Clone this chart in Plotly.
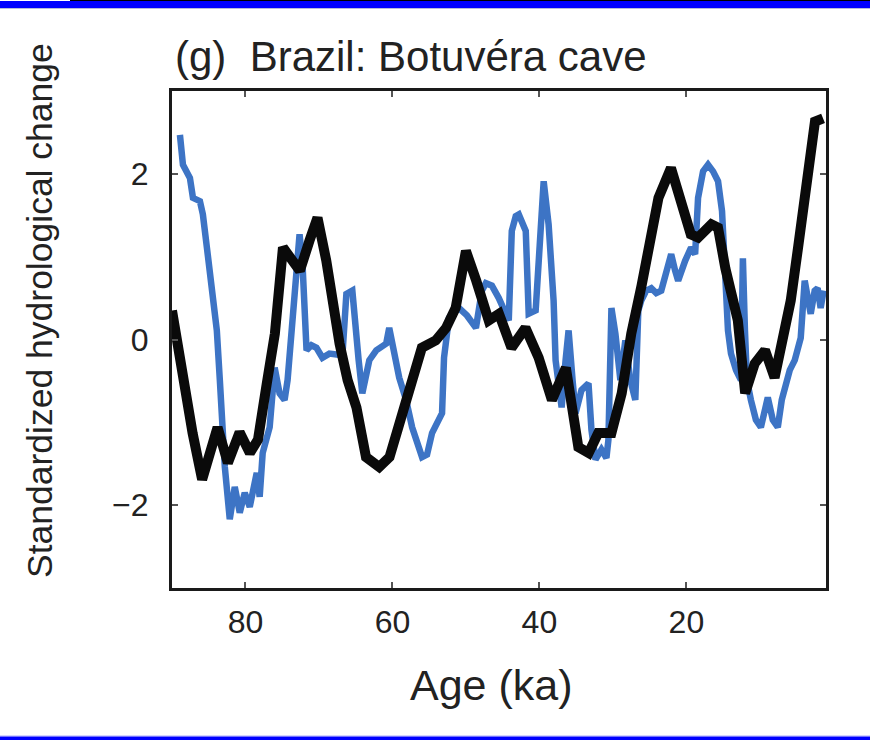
import plotly.graph_objects as go

# Canvas and plot-area geometry (pixels)
W, H = 870, 740
L, R, T, B = 172, 44, 91, 152

# Botuvéra cave speleothem record (blue), standardized
blue_age = [88.92, 88.51, 87.56, 87.15, 86.20, 85.80, 85.25, 84.44, 83.90, 83.49,
            83.22, 82.81, 82.14, 81.46, 80.78, 80.10, 79.42, 78.47, 78.07, 77.66,
            76.71, 76.03, 75.36, 74.68, 74.27, 73.73, 73.05, 72.64, 72.24, 71.69,
            71.02, 70.34, 69.53, 68.58, 66.81, 66.27, 65.46, 64.92, 64.60, 64.10,
            63.15, 62.20, 60.85, 60.44, 59.76, 59.08, 58.14, 57.32, 55.97, 55.29,
            54.61, 53.25, 52.98, 52.31, 51.63, 50.95, 49.86, 48.64, 47.83, 47.29,
            46.47, 45.53, 44.17, 43.76, 43.22, 42.81, 41.86, 41.46, 40.51, 39.97,
            39.42, 38.75, 38.07, 37.80, 36.98, 36.44, 36.03, 35.49, 35.08, 34.27,
            33.32, 32.92, 32.37, 31.56, 30.88, 30.61, 30.20, 29.66, 28.98, 28.31,
            27.63, 26.95, 26.54, 26.14, 25.46, 24.78, 24.10, 23.42, 22.75, 22.07,
            21.53, 21.12, 20.17, 19.36, 18.81, 18.41, 17.73, 17.05, 16.37, 15.69,
            15.15, 14.75, 14.34, 13.93, 13.25, 12.58, 12.31, 12.03, 11.76, 11.22,
            10.54, 9.86, 9.32, 8.92, 8.24, 7.56, 7.02, 6.61, 5.93, 5.25,
            4.85, 4.44, 3.90, 3.08, 2.54, 2.14, 1.73, 1.32]
blue_val = [2.47, 2.11, 1.95, 1.71, 1.67, 1.51, 1.11, 0.59, 0.11, -0.49,
            -1.06, -1.54, -2.17, -1.78, -2.09, -1.85, -2.02, -1.61, -1.90, -1.37,
            -1.06, -0.34, -0.65, -0.73, -0.49, 0.07, 0.79, 1.27, 0.91, -0.13,
            -0.07, -0.10, -0.22, -0.17, -0.19, 0.55, 0.59, -0.05, -0.25, -0.65,
            -0.25, -0.13, -0.05, 0.14, -0.13, -0.46, -0.73, -1.06, -1.42, -1.39,
            -1.13, -0.89, -0.22, 0.26, 0.35, 0.38, 0.29, 0.14, 0.59, 0.68,
            0.65, 0.50, 0.23, 1.31, 1.49, 1.51, 1.31, 0.31, 0.35, 1.31,
            1.91, 1.39, 0.47, -0.25, -0.82, -0.25, 0.11, -0.49, -0.89, -0.61,
            -0.53, -1.09, -1.45, -1.33, -1.43, -1.21, 0.38, 0.07, -0.49, -0.01,
            -0.49, -0.73, 0.35, 0.47, 0.59, 0.62, 0.56, 0.59, 0.83, 1.03,
            0.83, 0.71, 0.95, 1.11, 1.03, 1.71, 2.03, 2.11, 2.03, 1.91,
            1.55, 0.95, 0.11, -0.17, -0.37, -0.49, 0.98, 0.11, -0.49, -0.73,
            -0.97, -1.06, -0.85, -0.70, -0.97, -1.06, -0.73, -0.58, -0.37, -0.25,
            -0.07, 0.02, 0.71, 0.31, 0.59, 0.62, 0.38, 0.59]

# Model / composite hydrological index (black), standardized
black_age = [90.0, 88.2, 87.2, 85.9, 84.8, 83.8, 82.4, 80.8, 79.4, 78.3,
             77.1, 76.0, 74.9, 73.7, 72.6, 71.3, 70.2, 69.0, 68.2, 67.2,
             66.1, 64.9, 63.6, 61.8, 60.4, 59.1, 57.3, 56.0, 54.1, 52.7,
             51.4, 50.0, 48.6, 46.9, 45.5, 43.8, 41.9, 40.1, 38.3, 36.4,
             34.7, 33.3, 32.0, 30.2, 28.8, 27.5, 26.1, 23.8, 22.1, 21.1,
             19.4, 18.4, 16.6, 15.7, 14.7, 13.0, 12.0, 10.7, 9.3, 8.0,
             6.6, 5.8, 4.8, 3.5, 2.5, 1.4]
black_val = [0.35, -0.73, -1.13, -1.69, -1.39, -1.06, -1.49, -1.12, -1.37, -1.21,
             -0.53, 0.07, 1.11, 0.97, 0.83, 1.19, 1.47, 0.95, 0.47, -0.05,
             -0.49, -0.82, -1.42, -1.54, -1.42, -1.01, -0.41, -0.10, -0.01, 0.14,
             0.38, 1.07, 0.71, 0.23, 0.31, -0.10, 0.14, -0.22, -0.73, -0.34,
             -1.30, -1.37, -1.13, -1.13, -0.65, 0.07, 0.65, 1.71, 2.07, 1.79,
             1.27, 1.23, 1.39, 1.35, 0.86, 0.23, -0.65, -0.29, -0.13, -0.46,
             0.07, 0.47, 1.11, 1.91, 2.63, 2.67]

x_ticks = [80, 60, 40, 20]
y_ticks = [-2, 0, 2]
x_range = [90, 1]
y_range = [-3, 3]

panel_title = "(g)  Brazil: Botuvéra cave"
x_title = "Age (ka)"
y_title = "Standardized hydrological change"

FONT = "Liberation Sans, Arial, sans-serif"
TXT = "#222222"
PW, PH = W - L - R, H - T - B


def xp(px):
    return (px - L) / PW


def yp(py):
    return (H - B - py) / PH


fig = go.Figure()
fig.add_trace(go.Scatter(x=blue_age, y=blue_val, mode="lines",
                         line=dict(color="#3d74c5", width=6.5),
                         showlegend=False, hoverinfo="skip"))
fig.add_trace(go.Scatter(x=black_age, y=black_val, mode="lines",
                         line=dict(color="#0a0a0a", width=10),
                         showlegend=False, hoverinfo="skip"))

axis_common = dict(
    showgrid=False, zeroline=False, showline=True, linewidth=3,
    linecolor="#1a1a1a", mirror="ticks", ticks="inside", ticklen=6,
    tickwidth=1.5, tickcolor="#555555",
    tickfont=dict(family=FONT, size=32, color=TXT),
)
fig.update_xaxes(range=x_range, tickvals=x_ticks, ticklabelstandoff=4, **axis_common)
fig.update_yaxes(range=y_range, tickvals=y_ticks, ticklabelstandoff=14, **axis_common)

annotations = [
    dict(text=panel_title, x=xp(173), y=yp(56), xanchor="left", yanchor="middle",
         font=dict(family=FONT, size=42, color=TXT)),
    dict(text=x_title, x=xp(491), y=yp(685), xanchor="center", yanchor="middle",
         font=dict(family=FONT, size=43, color=TXT)),
    dict(text=y_title, x=xp(40), y=yp(311), xanchor="center", yanchor="middle",
         textangle=-90, font=dict(family=FONT, size=35.5, color=TXT)),
]
for a in annotations:
    a.update(xref="paper", yref="paper", showarrow=False)

# Page frame bands
shapes = [
    dict(x0=xp(0), x1=xp(W), y0=yp(8), y1=yp(1), fillcolor="#0000ff"),
    dict(x0=xp(70), x1=xp(W), y0=yp(1), y1=yp(0), fillcolor="#000000"),
    dict(x0=xp(0), x1=xp(W), y0=yp(9), y1=yp(8), fillcolor="#b8bcd8"),
    dict(x0=xp(0), x1=xp(W), y0=yp(740), y1=yp(736.7), fillcolor="#0000ff"),
    dict(x0=xp(0), x1=xp(W), y0=yp(736.7), y1=yp(735.7), fillcolor="#5a5aff"),
]
for s in shapes:
    s.update(type="rect", xref="paper", yref="paper", line=dict(width=0), layer="above")

fig.update_layout(
    width=W, height=H,
    margin=dict(l=L, r=R, t=T, b=B),
    paper_bgcolor="white", plot_bgcolor="white",
    annotations=annotations, shapes=shapes,
)

fig.write_html("out.html")
